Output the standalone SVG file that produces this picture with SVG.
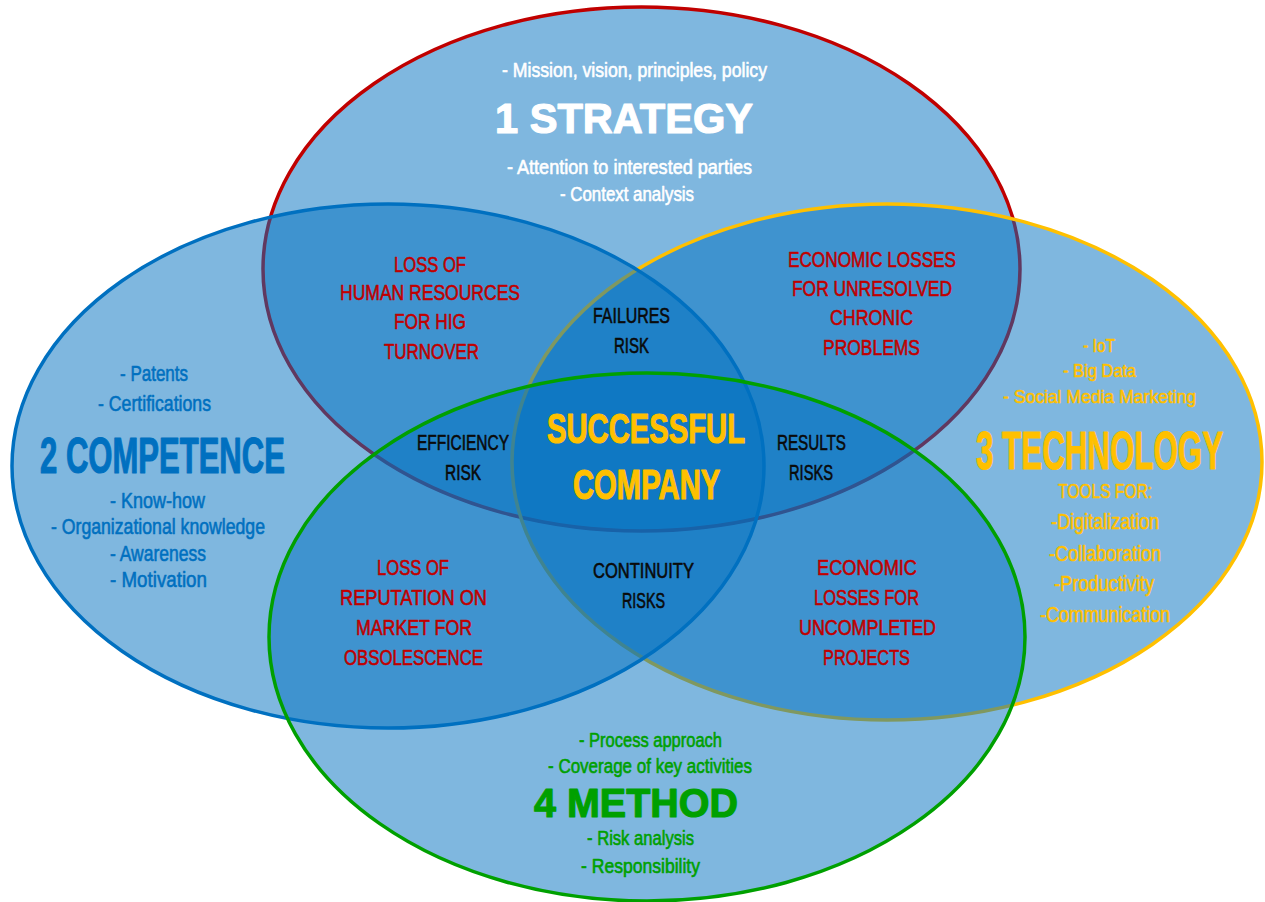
<svg xmlns="http://www.w3.org/2000/svg" width="1265" height="902" viewBox="0 0 1265 902">
<style>
.e{fill:#0070C0;fill-opacity:0.5;stroke-width:3.5}
text{font-family:"Liberation Sans",Arial,sans-serif;stroke-width:0.6;stroke-linejoin:round}
.s{font-size:20px}
.m{font-size:22px}
.b{font-weight:bold;stroke-width:1.2}
.w{fill:#FFFFFF;stroke:#FFFFFF}
.bl{fill:#0070C0;stroke:#0070C0}
.y{fill:#FFC000;stroke:#FFC000}
.g{fill:#00A000;stroke:#00A000}
.r{fill:#C00000;stroke:#C00000}
.k{fill:#0A0A0A;stroke:#0A0A0A}
</style>
<rect x="0" y="0" width="1265" height="902" fill="#FFFFFF"/>
<g id="strategy">
<ellipse class="e" cx="641.5" cy="269" rx="378.5" ry="262" stroke="#C00000"/>
<text class="s w" x="502" y="77" textLength="265" lengthAdjust="spacingAndGlyphs">- Mission, vision, principles, policy</text>
<text class="b w" style="font-size:42px" x="495" y="133" textLength="258" lengthAdjust="spacingAndGlyphs">1 STRATEGY</text>
<text class="s w" x="507" y="174" textLength="245" lengthAdjust="spacingAndGlyphs">- Attention to interested parties</text>
<text class="s w" x="560" y="201" textLength="134" lengthAdjust="spacingAndGlyphs">- Context analysis</text>
</g>
<g id="technology">
<ellipse class="e" cx="887" cy="462" rx="375" ry="258" stroke="#FFC000"/>
<text class="y" style="font-size:19px" x="1083" y="352" textLength="32" lengthAdjust="spacingAndGlyphs">- IoT</text>
<text class="y" style="font-size:19px" x="1063" y="377" textLength="73" lengthAdjust="spacingAndGlyphs">- Big Data</text>
<text class="y" style="font-size:19px" x="1003" y="403" textLength="193" lengthAdjust="spacingAndGlyphs">- Social Media Marketing</text>
<text class="b y" style="font-size:54px" transform="matrix(0.58,0,0,1,976,469)" x="0" y="0" textLength="426" lengthAdjust="spacingAndGlyphs">3 TECHNOLOGY</text>
<text class="y" style="font-size:21px" x="1058" y="498" textLength="94" lengthAdjust="spacingAndGlyphs">TOOLS FOR:</text>
<text class="m y" x="1051" y="529" textLength="108" lengthAdjust="spacingAndGlyphs">-Digitalization</text>
<text class="m y" x="1049" y="561" textLength="112" lengthAdjust="spacingAndGlyphs">-Collaboration</text>
<text class="m y" x="1054" y="591" textLength="100" lengthAdjust="spacingAndGlyphs">-Productivity</text>
<text class="m y" x="1040" y="622" textLength="130" lengthAdjust="spacingAndGlyphs">-Communication</text>
</g>
<g id="competence">
<ellipse class="e" cx="388" cy="466" rx="376" ry="262" stroke="#0070C0"/>
<text class="m bl" x="120" y="381" textLength="68" lengthAdjust="spacingAndGlyphs">- Patents</text>
<text class="m bl" x="98" y="411" textLength="113" lengthAdjust="spacingAndGlyphs">- Certifications</text>
<text class="b bl" style="font-size:50px" transform="matrix(0.62,0,0,1,40,473)" x="0" y="0" textLength="395" lengthAdjust="spacingAndGlyphs">2 COMPETENCE</text>
<text class="m bl" x="110" y="508" textLength="95" lengthAdjust="spacingAndGlyphs">- Know-how</text>
<text class="m bl" x="51" y="534" textLength="214" lengthAdjust="spacingAndGlyphs">- Organizational knowledge</text>
<text class="m bl" x="110" y="561" textLength="96" lengthAdjust="spacingAndGlyphs">- Awareness</text>
<text class="m bl" x="110" y="587" textLength="97" lengthAdjust="spacingAndGlyphs">- Motivation</text>
</g>
<g id="method">
<ellipse class="e" cx="647" cy="637" rx="378" ry="264" stroke="#00A000"/>
<text class="s g" x="579" y="747" textLength="143" lengthAdjust="spacingAndGlyphs">- Process approach</text>
<text class="s g" x="548" y="773" textLength="204" lengthAdjust="spacingAndGlyphs">- Coverage of key activities</text>
<text class="b g" style="font-size:41px" x="534" y="817" textLength="204" lengthAdjust="spacingAndGlyphs">4 METHOD</text>
<text class="s g" x="587" y="845" textLength="107" lengthAdjust="spacingAndGlyphs">- Risk analysis</text>
<text class="s g" x="581" y="873" textLength="119" lengthAdjust="spacingAndGlyphs">- Responsibility</text>
</g>
<g id="connectors"></g>
<g id="loss-human-resources">
<text class="m r" x="394" y="272" textLength="72" lengthAdjust="spacingAndGlyphs">LOSS OF</text>
<text class="m r" x="340" y="300" textLength="180" lengthAdjust="spacingAndGlyphs">HUMAN RESOURCES</text>
<text class="m r" x="394" y="329" textLength="72" lengthAdjust="spacingAndGlyphs">FOR HIG</text>
<text class="m r" x="384" y="359" textLength="95" lengthAdjust="spacingAndGlyphs">TURNOVER</text>
</g>
<g id="economic-losses-chronic">
<text class="m r" x="788" y="267" textLength="168" lengthAdjust="spacingAndGlyphs">ECONOMIC LOSSES</text>
<text class="m r" x="792" y="296" textLength="160" lengthAdjust="spacingAndGlyphs">FOR UNRESOLVED</text>
<text class="m r" x="830" y="325" textLength="83" lengthAdjust="spacingAndGlyphs">CHRONIC</text>
<text class="m r" x="823" y="355" textLength="97" lengthAdjust="spacingAndGlyphs">PROBLEMS</text>
</g>
<g id="loss-reputation">
<text class="m r" x="377" y="575" textLength="72" lengthAdjust="spacingAndGlyphs">LOSS OF</text>
<text class="m r" x="340" y="605" textLength="147" lengthAdjust="spacingAndGlyphs">REPUTATION ON</text>
<text class="m r" x="356" y="635" textLength="116" lengthAdjust="spacingAndGlyphs">MARKET FOR</text>
<text class="m r" x="344" y="665" textLength="139" lengthAdjust="spacingAndGlyphs">OBSOLESCENCE</text>
</g>
<g id="economic-losses-projects">
<text class="m r" x="817" y="575" textLength="100" lengthAdjust="spacingAndGlyphs">ECONOMIC</text>
<text class="m r" x="814" y="605" textLength="105" lengthAdjust="spacingAndGlyphs">LOSSES FOR</text>
<text class="m r" x="799" y="635" textLength="137" lengthAdjust="spacingAndGlyphs">UNCOMPLETED</text>
<text class="m r" x="823" y="665" textLength="87" lengthAdjust="spacingAndGlyphs">PROJECTS</text>
</g>
<g id="failures-risk">
<text class="m k" x="593" y="323" textLength="77" lengthAdjust="spacingAndGlyphs">FAILURES</text>
<text class="m k" x="614" y="353" textLength="35" lengthAdjust="spacingAndGlyphs">RISK</text>
</g>
<g id="efficiency-risk">
<text class="m k" x="417" y="450" textLength="92" lengthAdjust="spacingAndGlyphs">EFFICIENCY</text>
<text class="m k" x="445" y="480" textLength="36" lengthAdjust="spacingAndGlyphs">RISK</text>
</g>
<g id="results-risks">
<text class="m k" x="777" y="450" textLength="69" lengthAdjust="spacingAndGlyphs">RESULTS</text>
<text class="m k" x="789" y="480" textLength="44" lengthAdjust="spacingAndGlyphs">RISKS</text>
</g>
<g id="continuity-risks">
<text class="m k" x="593" y="578" textLength="101" lengthAdjust="spacingAndGlyphs">CONTINUITY</text>
<text class="m k" x="622" y="608" textLength="43" lengthAdjust="spacingAndGlyphs">RISKS</text>
</g>
<g id="successful-company">
<text class="b y" style="font-size:42px" transform="matrix(0.695,0,0,1,547,443)" x="0" y="0" textLength="285" lengthAdjust="spacingAndGlyphs">SUCCESSFUL</text>
<text class="b y" style="font-size:42px" transform="matrix(0.685,0,0,1,573,499)" x="0" y="0" textLength="215" lengthAdjust="spacingAndGlyphs">COMPANY</text>
</g>
</svg>
